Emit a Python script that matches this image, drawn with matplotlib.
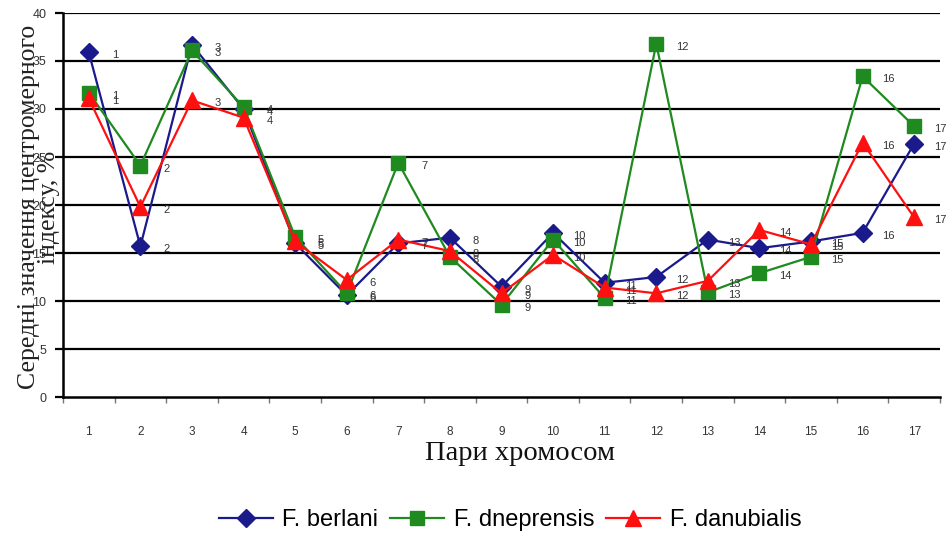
import numpy as np
import matplotlib
matplotlib.use('Agg')
import matplotlib.pyplot as plt

# data
pairs = list(range(1, 18))
berlani = [35.9, 15.7, 36.7, 30.0, 16.0, 10.6, 16.0, 16.6, 11.5, 17.1, 11.9, 12.5, 16.4, 15.5, 16.2, 17.1, 26.4]
dneprensis = [31.7, 24.1, 36.1, 30.2, 16.7, 10.8, 24.4, 14.6, 9.6, 16.4, 10.3, 36.8, 10.9, 12.9, 14.6, 33.4, 28.2]
danubialis = [31.1, 19.8, 30.9, 29.1, 16.2, 12.2, 16.4, 15.2, 10.8, 14.8, 11.4, 10.8, 12.1, 17.4, 15.9, 26.5, 18.7]

series = [
    ('F. berlani', berlani, '#1a1a8c', 'D', 9),
    ('F. dneprensis', dneprensis, '#1f8a1f', 's', 10),
    ('F. danubialis', danubialis, '#ff1010', '^', 11),
]

###########
# plotting
###########
plt.rcParams.update({
    'font.family': ['Liberation Sans', 'DejaVu Sans'],
    'font.size': 8,
})

fig = plt.figure(figsize=(9.47, 5.35), dpi=100)
ax = fig.add_axes([63 / 947, 1 - 397 / 535, 877 / 947, 384 / 535])

# horizontal grid lines
for v in range(5, 45, 5):
    ax.axhline(v, color='black', lw=1.6, zorder=1)

for name, vals, col, mk, ms in series:
    ax.plot(pairs, vals, color=col, lw=1.6, marker=mk, markersize=ms,
            label=name, zorder=3)
    for p, v in zip(pairs, vals):
        ax.annotate(str(p), (p, v), xytext=(26, -3), textcoords='offset pixels',
                    ha='center', va='center', fontsize=8, color='#333333', zorder=4)

ax.set_xlim(0.5, 17.5)
ax.set_ylim(0, 40)

# axis spines
for s in ['top', 'right']:
    ax.spines[s].set_visible(False)
ax.spines['left'].set_linewidth(1.8)
ax.spines['bottom'].set_linewidth(1.8)

ax.set_xticks(pairs)
ax.set_xticks(np.arange(0.5, 18, 1), minor=True)
ax.tick_params(axis='x', which='major', length=0, pad=21, labelsize=8.5, labelcolor='#333333')
ax.tick_params(axis='x', which='minor', length=4, width=1, color='#777777', direction='out')
ax.set_yticks(range(0, 45, 5))
ax.tick_params(axis='y', length=6, width=1.6, pad=6, labelsize=9, labelcolor='#333333')

# axis titles
fig.text(39 / 947, 1 - 207 / 535, 'Середні значення центромерного\nіндексу, %',
         rotation=90, ha='center', va='center', multialignment='center',
         family='Liberation Serif', fontsize=18.5, linespacing=0.92, color='#222222')
fig.text(520 / 947, 1 - 453 / 535, 'Пари хромосом', ha='center', va='center',
         family='Liberation Serif', fontsize=20.5, color='#111111')

# legend
fig.legend(loc='center', bbox_to_anchor=(510 / 947, 1 - 520 / 535), ncol=3,
           frameon=False, fontsize=17, handlelength=2.3, handletextpad=0.4,
           columnspacing=0.5)

fig.savefig('out.png', dpi=100)
